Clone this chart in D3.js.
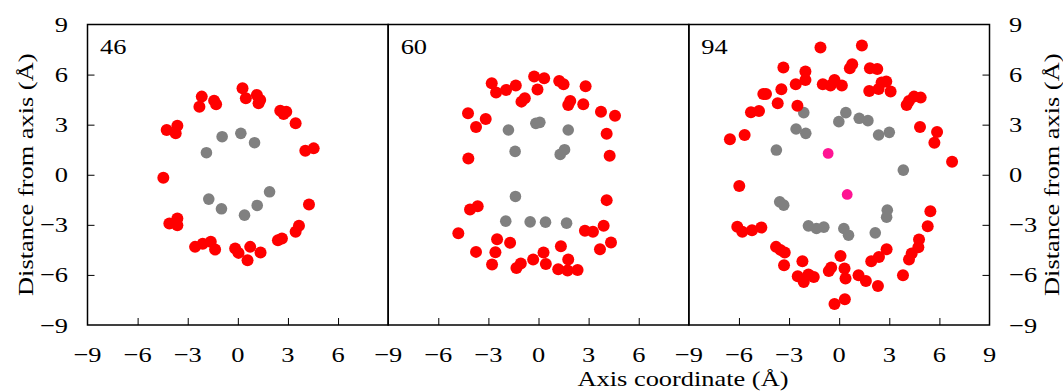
<!DOCTYPE html>
<html>
<head>
<meta charset="utf-8">
<script src="https://cdn.jsdelivr.net/npm/d3@7"></script>
<style>
  html, body { margin: 0; padding: 0; background: #fff; }
  svg { display: block; }
  text { font-family: "Liberation Serif", "DejaVu Serif", serif; fill: #000; }
</style>
</head>
<body>
<svg id="chart" width="1063" height="392"></svg>
<script>
// Atom positions (axis coordinate, distance from axis) in Å, per frame
const panelLabels = ["46", "60", "94"];

const red46 = [
  [0.28, 5.18], [0.48, 4.58], [1.14, 4.78], [1.34, 4.48], [1.24, 4.28],
  [-2.16, 4.68], [-2.3, 4.08], [-1.42, 4.44], [-1.3, 4.22],
  [2.54, 3.84], [2.9, 3.78], [2.74, 3.64], [3.46, 3.08],
  [-4.26, 2.68], [-3.62, 2.94], [-3.72, 2.48],
  [4.04, 1.44], [4.54, 1.58], [-4.46, -0.18], [4.26, -1.78],
  [-4.1, -2.92], [-3.62, -2.62], [-3.62, -3.02],
  [3.66, -3.06], [3.46, -3.42],
  [-2.56, -4.32], [-2.1, -4.14], [-1.62, -4.02], [-1.36, -4.48],
  [-0.16, -4.42], [0.04, -4.68], [0.74, -4.32], [1.36, -4.66], [0.58, -5.12],
  [2.4, -3.92], [2.64, -3.82]
];
const gray46 = [
  [-0.94, 2.28], [0.18, 2.48], [1.0, 1.92], [-1.88, 1.32],
  [-1.74, -1.46], [-0.98, -2.04], [0.4, -2.42], [1.16, -1.84], [1.9, -1.02]
];

const red60 = [
  [-2.8, 5.48], [-2.54, 4.92], [-1.94, 5.08], [-1.36, 5.34],
  [-0.26, 5.88], [0.34, 5.78], [-0.06, 5.1], [1.24, 5.62], [1.5, 5.42], [2.82, 5.3],
  [-0.82, 4.58], [-1.02, 4.38], [1.9, 4.42], [1.78, 4.18], [2.68, 4.22],
  [-4.22, 3.68], [-3.74, 2.86], [-3.16, 3.34],
  [3.74, 3.78], [4.58, 3.54], [4.08, 2.46],
  [-4.2, 0.98], [4.26, 1.14], [4.08, -1.52],
  [-4.1, -2.08], [-3.64, -1.88], [-4.8, -3.5],
  [-2.48, -3.86], [-1.7, -4.08], [-3.74, -4.62], [-2.58, -4.64], [-2.78, -5.38],
  [-1.32, -5.58], [-1.06, -5.32], [-0.32, -5.08], [0.3, -4.66], [0.44, -5.34],
  [1.34, -4.28], [1.78, -5.08], [1.18, -5.66], [1.74, -5.74], [2.34, -5.7],
  [2.78, -3.36], [3.26, -3.42], [3.9, -3.06], [3.68, -4.46], [4.34, -4.06]
];
const gray60 = [
  [-1.8, 2.68], [-0.16, 3.08], [0.08, 3.14], [1.78, 2.68],
  [-1.4, 1.4], [1.3, 1.22], [1.56, 1.5], [-1.38, -1.3],
  [-1.96, -2.78], [-0.5, -2.82], [0.42, -2.84], [1.68, -2.9]
];

const red94 = [
  [-1.12, 7.62], [1.36, 7.74], [-3.34, 6.42], [-2.02, 6.18], [-2.02, 5.68], [-2.6, 5.42],
  [0.64, 6.38], [0.78, 6.62], [1.84, 6.38], [2.28, 6.34],
  [-0.98, 5.42], [-0.52, 5.34], [-0.28, 5.68], [0.16, 5.34],
  [1.8, 5.02], [2.36, 5.14], [2.54, 5.52], [2.82, 5.58], [3.08, 4.98],
  [-4.54, 4.84], [-4.38, 4.84], [-3.46, 5.12], [-3.68, 4.28],
  [-5.28, 3.74], [-4.8, 3.82], [-2.5, 4.14],
  [4.04, 4.18], [4.18, 4.42], [4.48, 4.68], [4.88, 4.62],
  [4.84, 2.86], [5.86, 2.56], [5.7, 1.92], [6.76, 0.78],
  [-6.54, 2.12], [-5.66, 2.38], [-5.98, -0.68],
  [5.46, -2.18], [5.3, -3.08],
  [-6.1, -3.12], [-5.8, -3.42], [-5.22, -3.32], [-4.66, -3.16],
  [-3.78, -4.32], [-3.52, -4.5], [-3.26, -4.66], [-3.3, -5.42], [-2.2, -5.18],
  [-2.48, -6.08], [-2.12, -6.42], [-1.84, -5.98], [-1.52, -6.12],
  [-0.62, -5.76], [-0.48, -5.56], [0.08, -4.86], [0.32, -5.62], [0.38, -6.22],
  [1.16, -6.02], [1.6, -6.36], [2.32, -6.66],
  [1.92, -5.18], [2.38, -4.92], [2.84, -4.46],
  [3.82, -6.02], [4.18, -5.08], [4.34, -4.72], [4.74, -4.34], [4.78, -3.88],
  [-0.28, -7.74], [0.34, -7.46]
];
const gray94 = [
  [-2.12, 3.72], [0.4, 3.72], [-0.02, 3.18], [1.2, 3.38], [1.72, 3.24],
  [-2.58, 2.74], [-2.0, 2.48], [2.36, 2.38], [3.0, 2.54],
  [-3.76, 1.48], [3.84, 0.28],
  [-3.56, -1.62], [-3.32, -1.82],
  [-1.84, -3.06], [-1.36, -3.22], [-0.92, -3.14],
  [0.28, -3.22], [0.56, -3.62],
  [2.88, -2.12], [2.84, -2.54], [2.16, -3.48]
];
const pink94 = [[-0.66, 1.28], [0.48, -1.18]];

const xTicks = [-9, -6, -3, 0, 3, 6, 9];
const yTicks = [-9, -6, -3, 0, 3, 6, 9];
const innerTicks = [-6, -3, 0, 3, 6];

const panels = [
  { label: panelLabels[0], red: red46, gray: gray46, pink: [] },
  { label: panelLabels[1], red: red60, gray: gray60, pink: [] },
  { label: panelLabels[2], red: red94, gray: gray94, pink: pink94 }
];

const svg = d3.select("#chart");
const marginLeft = 87.5, marginTop = 24.5, panelW = 300.67, panelH = 300.5;
const stretch = 1.2;   // the serif face is set slightly wide
const fontSize = 22;
const fmt = v => (v < 0 ? "\u2212" + Math.abs(v) : String(v));

function label(g, x, y, str, anchor, rotate) {
  const t = `translate(${x},${y})` + (rotate ? ` rotate(${rotate})` : "") + ` scale(${stretch},1)`;
  return g.append("text")
    .attr("transform", t)
    .attr("text-anchor", anchor)
    .style("font-size", fontSize + "px")
    .text(str);
}

const y = d3.scaleLinear().domain([-9, 9]).range([marginTop + panelH, marginTop]);

panels.forEach((p, i) => {
  const x0 = marginLeft + i * panelW;
  const x = d3.scaleLinear().domain([-9, 9]).range([x0, x0 + panelW]);
  const g = svg.append("g");

  // inward ticks on bottom
  g.append("g")
    .attr("transform", `translate(0,${marginTop + panelH})`)
    .call(d3.axisBottom(x).tickValues(innerTicks).tickSize(-7).tickFormat(""))
    .call(a => a.select(".domain").remove())
    .call(a => a.selectAll("line").attr("stroke", "#000").attr("stroke-width", 1));

  if (i === 0) {
    g.append("g")
      .attr("transform", `translate(${x0},0)`)
      .call(d3.axisLeft(y).tickValues(innerTicks).tickSize(-7).tickFormat(""))
      .call(a => a.select(".domain").remove())
      .call(a => a.selectAll("line").attr("stroke", "#000").attr("stroke-width", 1));
  }
  if (i === panels.length - 1) {
    g.append("g")
      .attr("transform", `translate(${x0 + panelW},0)`)
      .call(d3.axisRight(y).tickValues(innerTicks).tickSize(-7).tickFormat(""))
      .call(a => a.select(".domain").remove())
      .call(a => a.selectAll("line").attr("stroke", "#000").attr("stroke-width", 1));
  }

  // x tick labels
  const labs = i === panels.length - 1 ? xTicks : xTicks.slice(0, -1);
  labs.forEach(v => label(svg, x(v), 362, fmt(v), "middle"));

  // points
  const dot = (data, color, r) => g.selectAll(null).data(data).enter().append("circle")
    .attr("cx", d => x(d[0])).attr("cy", d => y(d[1])).attr("r", r).attr("fill", color);
  dot(p.gray, "#808080", 5.8);
  dot(p.red, "#ff0000", 6);
  dot(p.pink, "#ff1493", 5.4);

  // frame
  g.append("rect")
    .attr("x", x0).attr("y", marginTop).attr("width", panelW).attr("height", panelH)
    .attr("fill", "none").attr("stroke", "#000").attr("stroke-width", 1.5);

  // frame label
  label(g, x0 + 12.5, 54, p.label, "start");
});

// y tick labels, both sides
yTicks.forEach(v => {
  label(svg, 68, y(v) + 7.5, fmt(v), "end");
  label(svg, 1009, y(v) + 7.5, fmt(v), "start");
});

// axis titles
label(svg, 683, 386, "Axis coordinate (\u00c5)", "middle");
label(svg, 33, marginTop + panelH / 2, "Distance from axis (\u00c5)", "middle", -90);
label(svg, 1059, marginTop + panelH / 2, "Distance from axis (\u00c5)", "middle", -90);
</script>
</body>
</html>
